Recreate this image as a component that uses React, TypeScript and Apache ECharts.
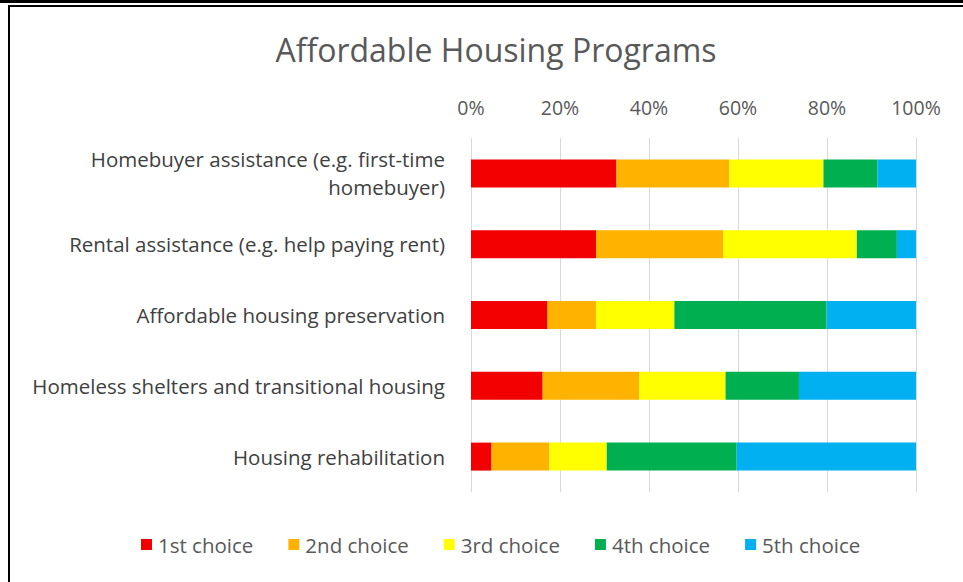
import React, { useEffect, useRef } from "react";
import * as echarts from "echarts";

const categories = [
  "Homebuyer assistance (e.g. first-time\nhomebuyer)",
  "Rental assistance (e.g. help paying rent)",
  "Affordable housing preservation",
  "Homeless shelters and transitional housing",
  "Housing rehabilitation",
];
const seriesNames = ["1st choice", "2nd choice", "3rd choice", "4th choice", "5th choice"];
const first = [32.7, 28.1, 17.2, 16.1, 4.6];
const second = [25.3, 28.6, 10.9, 21.7, 13.0];
const third = [21.2, 30.0, 17.6, 19.4, 12.9];
const fourth = [12.1, 9.0, 34.2, 16.5, 29.2];
const fifth = [8.7, 4.3, 20.1, 26.3, 40.3];
const colors = ["#F20000", "#FFB300", "#FFFF00", "#00B050", "#00B0F0"];

const FONT = "Open Sans";

export default function App() {
  const ref = useRef<HTMLDivElement>(null);
  useEffect(() => {
    document.body.style.margin = "0";
    const chart = echarts.init(ref.current!, undefined, { renderer: "svg" });
    const values = [first, second, third, fourth, fifth];
    chart.setOption({
      animation: false,
      backgroundColor: "#ffffff",
      title: {
        text: "Affordable Housing Programs",
        left: 491,
        textAlign: "center",
        top: 28,
        textStyle: { fontFamily: FONT, fontSize: 32, fontWeight: "normal", color: "#595959" },
      },
      legend: {
        bottom: 22,
        left: 136,
        icon: "rect",
        itemWidth: 11,
        itemHeight: 11,
        itemGap: 35,
        data: seriesNames,
        textStyle: { fontFamily: FONT, fontSize: 20.5, color: "#595959", padding: [0, 0, 0, 1] },
      },
      grid: { left: 471, right: 47, top: 138, bottom: 90 },
      xAxis: {
        type: "value",
        position: "top",
        min: 0,
        max: 100,
        interval: 20,
        axisLine: { show: false },
        axisTick: { show: false },
        axisLabel: {
          formatter: "{value}%",
          fontFamily: FONT,
          fontSize: 19.5,
          color: "#595959",
          margin: 21,
        },
        splitLine: { show: true, lineStyle: { color: "#D9D9D9", width: 1 } },
      },
      yAxis: {
        type: "category",
        inverse: true,
        data: categories,
        axisLine: { show: false },
        axisTick: { show: false },
        axisLabel: {
          fontFamily: FONT,
          fontSize: 20.5,
          color: "#404040",
          margin: 26,
          align: "right",
          lineHeight: 28,
        },
      },
      series: seriesNames.map((name, i) => ({
        name,
        type: "bar",
        stack: "total",
        barWidth: 28,
        data: values[i],
        itemStyle: { color: colors[i] },
      })),
      graphic: [
        { type: "rect", shape: { x: 0, y: 0, width: 963, height: 3 }, style: { fill: "#000" } },
        { type: "rect", shape: { x: 8, y: 5, width: 955, height: 2 }, style: { fill: "#000" } },
        { type: "rect", shape: { x: 8, y: 5, width: 2, height: 577 }, style: { fill: "#000" } },
      ],
    });
    return () => chart.dispose();
  }, []);
  return <div ref={ref} style={{ width: 963, height: 582 }} />;
}
